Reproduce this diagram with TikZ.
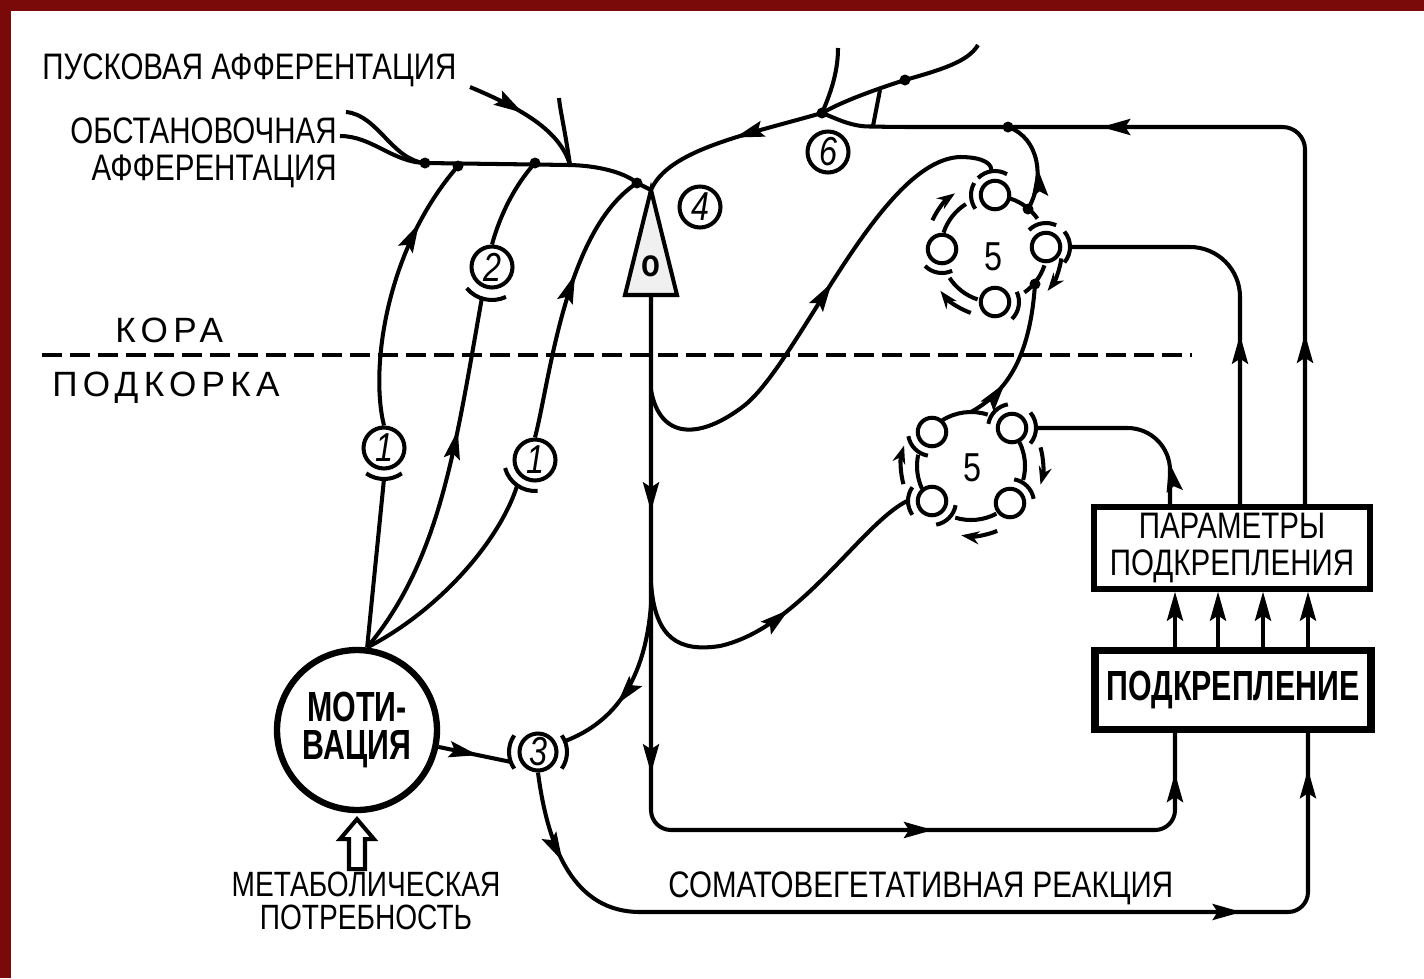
\documentclass[tikz,border=0pt]{standalone}
\usepackage{fontspec}
\setmainfont{Liberation Sans}
\newfontfamily\labelfont[FakeStretch=0.8]{Liberation Sans}
\newfontfamily\heavyfont[FakeStretch=0.72]{Liberation Sans}
\newfontfamily\spacedfont[LetterSpace=15]{Liberation Sans}
\usetikzlibrary{positioning,arrows.meta,calc,decorations.markings}
\definecolor{ink}{HTML}{000000}
\definecolor{frame}{HTML}{7A0A0A}
\newcommand\arcat[4]{\draw[wire] ([shift={(#2:#4)}]#1) arc[start angle=#2,end angle=#3,radius=#4];}

\begin{document}
\begin{tikzpicture}[
  x=0.02cm,y=0.02cm,
  >={Stealth[length=0.58cm,width=0.32cm,inset=0.1cm]},
  wire/.style={draw=ink,line width=2.3pt},
  arrowat/.style={postaction={decorate,decoration={markings,mark=at position #1 with {\arrow{>}}}}},
  num/.style={circle,draw=ink,line width=2.3pt,fill=white,minimum size=0.82cm,inner sep=0pt,font=\labelfont\itshape\fontsize{23}{23}\selectfont},
  cell/.style={circle,draw=ink,line width=2.3pt,fill=white,minimum size=0.57cm,inner sep=0pt},
  caption/.style={font=\labelfont\fontsize{21}{21}\selectfont,inner sep=0pt,align=center},
  zone/.style={font=\spacedfont\fontsize{20}{20}\selectfont,inner sep=0pt,anchor=west},
  box/.style={draw=ink,fill=white,align=center,inner sep=0pt},
  dot/.style={circle,fill=ink,inner sep=0pt,minimum size=0.22cm},
  ringarrow/.style={>={Stealth[length=0.36cm,width=0.26cm]},->,draw=ink,line width=2.3pt}
]
\useasboundingbox (0,0) rectangle (1424,-978);
\fill[white] (0,0) rectangle (1424,-978);
\fill[frame] (0,0) rectangle (1424,-11);
\fill[frame] (0,0) rectangle (11,-978);

\node[caption,anchor=west] (pusktxt) at (42,-70) {ПУСКОВАЯ АФФЕРЕНТАЦИЯ};
\node[caption,align=right,anchor=east,font=\labelfont\fontsize{21}{21}\selectfont] (obsttxt) at (337,-153) {ОБСТАНОВОЧНАЯ\\АФФЕРЕНТАЦИЯ};
\node[zone] (kora) at (115,-330) {КОРА};
\node[zone] (subkora) at (52,-388) {ПОДКОРКА};
\node[caption,font=\labelfont\fontsize{20}{18.7}\selectfont] (met) at (366,-901) {МЕТАБОЛИЧЕСКАЯ\\ПОТРЕБНОСТЬ};
\node[caption,anchor=west] (somatxt) at (668,-888) {СОМАТОВЕГЕТАТИВНАЯ РЕАКЦИЯ};

\node[circle,draw=ink,line width=3.6pt,fill=white,minimum size=3.2cm,inner sep=0pt,align=center,
  font=\heavyfont\bfseries\fontsize{24}{22}\selectfont] (mot) at (357,-730) {МОТИ-\\ВАЦИЯ};
\node[box,line width=3pt,minimum width=5.52cm,minimum height=1.64cm,font=\labelfont\fontsize{21}{21.5}\selectfont] (par) at (1232,-548) {ПАРАМЕТРЫ\\ПОДКРЕПЛЕНИЯ};
\node[box,line width=4.2pt,minimum width=5.52cm,minimum height=1.58cm,font=\heavyfont\bfseries\fontsize{24}{24}\selectfont] (rein) at (1233,-690) {ПОДКРЕПЛЕНИЕ};

\node[num] (c1a) at (384,-448) {1};
\node[num] (c2) at (492,-267) {2};
\node[num] (c1b) at (535,-460) {1};
\node[num,minimum size=0.74cm] (c3) at (538,-752) {3};
\node[num] (c4) at (700,-207) {4};
\node[num] (c6) at (828,-152) {6};

\coordinate (uc) at (994,-249);
\node[cell] (ut) at (995,-195) {};
\node[cell] (ul) at (942,-249) {};
\node[cell] (ur) at (1046,-247) {};
\node[cell] (ub) at (995,-302) {};
\node[font=\labelfont\fontsize{23}{23}\selectfont] (u5) at (993,-257) {5};
\coordinate (lc) at (971,-466);
\node[cell] (ltl) at (932,-432) {};
\node[cell] (ltr) at (1012,-428) {};
\node[cell] (lbl) at (932,-501) {};
\node[cell] (lbr) at (1010,-503) {};
\node[font=\labelfont\fontsize{23}{23}\selectfont] (l5) at (972,-468) {5};

\coordinate (obA) at (346,-112);
\coordinate (obB) at (340,-136);
\coordinate (pusk) at (470,-87);
\coordinate (j1) at (425,-163);
\coordinate (j2) at (458,-166);
\coordinate (j3) at (535,-163);
\coordinate (jp) at (570,-165);
\coordinate (twig1) at (559,-98);
\coordinate (j4) at (637,-183);
\coordinate (apex) at (651,-190);
\coordinate (base) at (651,-295);
\coordinate (j6) at (822,-113);
\coordinate (twig2) at (838,-48);
\coordinate (jt) at (905,-80);
\coordinate (topend) at (978,-45);
\coordinate (jx) at (880,-90);
\coordinate (hx) at (873,-126);
\coordinate (jr) at (1008,-127);
\coordinate (ud1) at (1028,-209);
\coordinate (ud2) at (1035,-284);
\coordinate (lt) at (971,-412);
\coordinate (ax1) at (651,-390);
\coordinate (ax2) at (651,-583);
\coordinate (ax3) at (651,-605);
\coordinate (x1) at (1170,0);
\coordinate (x2) at (1240,0);
\coordinate (x3) at (1305,0);
\coordinate (x4) at (1175,0);
\coordinate (x5) at (1308,0);

\draw[wire] (obA) .. controls (378,-115) and (392,-160) .. (j1);
\draw[wire] (obB) .. controls (372,-136) and (392,-162) .. (j1);
\draw[wire] (j1) -- (jp) .. controls (605,-166) and (628,-175) .. (j4) -- (apex);
\draw[wire,arrowat=0.45] (pusk) .. controls (520,-108) and (560,-130) .. (jp);
\draw[wire] (jp) .. controls (565,-130) and (560,-110) .. (twig1);
\draw[wire,arrowat=0.75] (c1a.north) .. controls (370,-370) and (385,-250) .. (j2);
\draw[wire] (c2.north) .. controls (500,-215) and (515,-185) .. (j3);
\draw[wire,arrowat=0.6] (c1b.north) .. controls (550,-380) and (565,-230) .. (j4);
\draw[wire] (mot.83) -- ([shift={(270:31)}]c1a.center);
\draw[wire,arrowat=0.64] (mot.83) .. controls (440,-560) and (455,-450) .. ([shift={(252:33)}]c2.center);
\draw[wire] (mot.83) .. controls (440,-610) and (500,-540) .. ([shift={(235:31)}]c1b.center);
\arcat{c1a.center}{235}{305}{31}
\arcat{c2.center}{220}{295}{33}
\arcat{c1b.center}{195}{275}{31}
\arcat{c3.center}{145}{215}{29}
\arcat{c3.center}{-35}{35}{29}

\draw[wire,arrowat=0.47] (j6) .. controls (745,-135) and (668,-150) .. (apex);
\draw[wire] (j6) .. controls (833,-88) and (838,-68) .. (twig2);
\draw[wire] (j6) .. controls (845,-100) and (880,-88) .. (jt) .. controls (940,-70) and (968,-62) .. (topend);
\draw[wire] (jx) -- (hx);
\draw[wire,rounded corners=0.45cm,arrowat=0.2,arrowat=0.67] (par.north -| x3) -- (1305,-127) -- (890,-127) .. controls (850,-126) and (835,-118) .. (j6);
\draw[wire,arrowat=0.45] (ud1) .. controls (1045,-180) and (1040,-138) .. (jr);
\draw[wire,rounded corners=1cm,arrowat=0.42] (par.north -| x2) -- (1240,-247) -- ([shift={(0:26)}]ur.center);
\draw[wire,rounded corners=0.85cm,arrowat=0.22] (par.north -| x1) -- (1170,-428) -- ([shift={(0:26)}]ltr.center);

\draw[wire,rounded corners=0.4cm,arrowat=0.19,arrowat=0.42,arrowat=0.71,arrowat=0.965] (base) -- (651,-830) -- (1175,-830) -- (rein.south -| x4);
\draw[wire,arrowat=0.55] (ax1) .. controls (660,-440) and (700,-440) .. (745,-405) .. controls (800,-360) and (880,-160) .. (960,-157) .. controls (985,-157) and (993,-165) .. ([shift={(100:24)}]ut.center);
\draw[wire,arrowat=0.54] (ax2) .. controls (655,-640) and (680,-652) .. (720,-646) .. controls (800,-628) and (860,-525) .. ([shift={(180:25)}]lbl.center);
\draw[wire,arrowat=0.62] (ax3) .. controls (645,-680) and (615,-722) .. ([shift={(22:29)}]c3.center);
\draw[wire,arrowat=0.55] (mot) -- ([shift={(200:29)}]c3.center);
\draw[wire,rounded corners=0.4cm,arrowat=0.09,arrowat=0.77,arrowat=0.965] (c3.south) .. controls (548,-850) and (575,-912) .. (660,-912) -- (1308,-912) -- (rein.south -| x5);
\draw[wire,arrowat=0.3] (lt) .. controls (1005,-393) and (1030,-360) .. (ud2);
\foreach \x in {1175,1218,1263,1308}{
  \coordinate (k) at (\x,0);
  \draw[wire,->] (rein.north -| k) -- (par.south -| k);
}

\arcat{uc}{162}{122}{53}
\arcat{uc}{72}{35}{53}
\arcat{uc}{-18}{-55}{53}
\arcat{uc}{-108}{-147}{53}
\arcat{ut.center}{60}{135}{24}
\arcat{ut.center}{150}{215}{24}
\arcat{ur.center}{65}{135}{24}
\arcat{ur.center}{-40}{40}{24}
\arcat{ub.center}{-45}{25}{24}
\arcat{ul.center}{225}{295}{24}
\draw[ringarrow] ([shift={(155:68)}]uc) arc[start angle=155,end angle=125,radius=68];
\draw[ringarrow] ([shift={(-8:68)}]uc) arc[start angle=-8,end angle=-38,radius=68];
\draw[ringarrow] ([shift={(250:68)}]uc) arc[start angle=250,end angle=218,radius=68];

\arcat{lc}{122}{72}{54}
\arcat{lc}{26}{-15}{54}
\arcat{lc}{-62}{-107}{54}
\arcat{lc}{205}{168}{54}
\arcat{ltl.center}{190}{260}{24}
\arcat{ltr.center}{100}{170}{24}
\arcat{ltr.center}{-40}{40}{24}
\arcat{lbr.center}{10}{80}{24}
\arcat{lbl.center}{280}{350}{24}
\arcat{lbl.center}{145}{215}{24}
\draw[ringarrow] ([shift={(195:70)}]lc) arc[start angle=195,end angle=163,radius=70];
\draw[ringarrow] ([shift={(15:72)}]lc) arc[start angle=15,end angle=-15,radius=72];
\draw[ringarrow] ([shift={(-68:70)}]lc) arc[start angle=-68,end angle=-98,radius=70];

\draw[wire,fill=black!6] (apex) -- (677,-295) -- (625,-295) -- cycle;
\node[font=\labelfont\bfseries\fontsize{22}{22}\selectfont] (soma) at (651,-266) {o};
\draw[wire,fill=white] ([shift={(-8,-56)}]mot.south) -- ([shift={(-8,-26)}]mot.south) -- ([shift={(-17,-26)}]mot.south) -- ([shift={(0,-6)}]mot.south) -- ([shift={(17,-26)}]mot.south) -- ([shift={(8,-26)}]mot.south) -- ([shift={(8,-56)}]mot.south) -- cycle;

\foreach \p in {j1,j2,j3,j4,j6,jt,jr,ud1,ud2}
  \node[dot] at (\p) {};
\draw[draw=ink,line width=2.5pt,dash pattern=on 0.4cm off 0.16cm] (42,-355) -- (1192,-355);
\end{tikzpicture}
\end{document}
